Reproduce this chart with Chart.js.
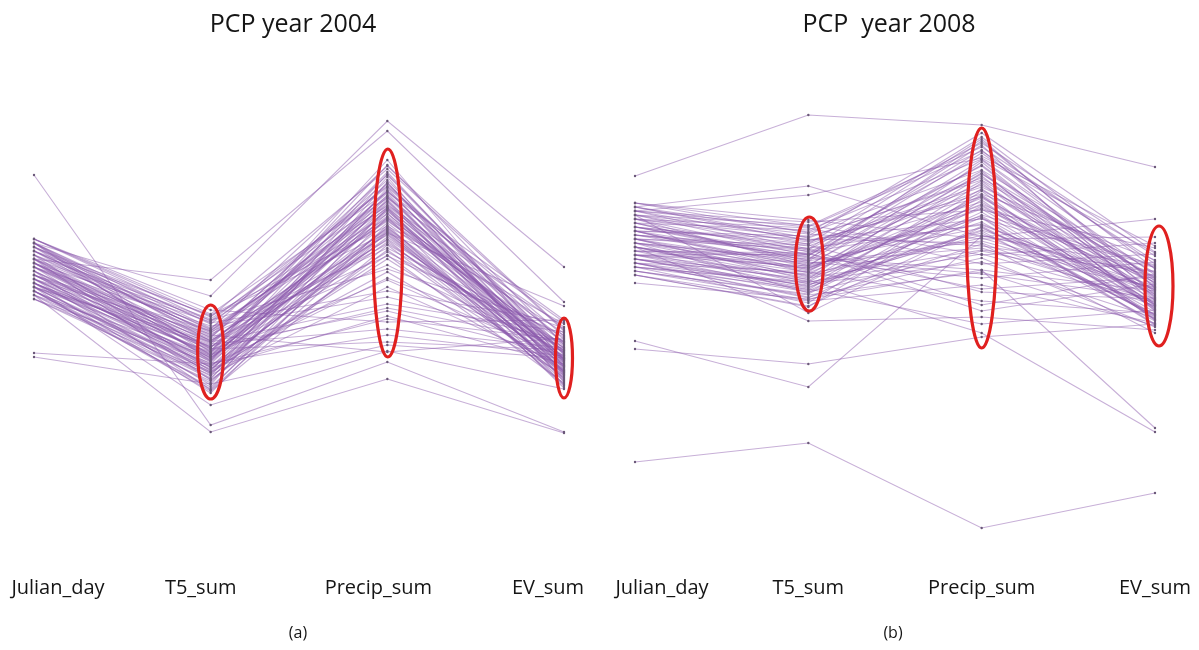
<!DOCTYPE html>
<html>
<head>
<meta charset="utf-8">
<script src="https://cdn.jsdelivr.net/npm/chart.js@4"></script>
<style>
  html, body { margin: 0; padding: 0; background: #fff; }
  body { width: 1199px; height: 650px; position: relative; overflow: hidden; }
  canvas { position: absolute; top: 0; }
  #pcpA { left: 0; }
  #pcpB { left: 600px; }
</style>
</head>
<body>
<canvas id="pcpA" width="600" height="650"></canvas>
<canvas id="pcpB" width="599" height="650"></canvas>
<script>
// Parallel coordinate axes (shared by both years)
const dimensions = ['Julian_day', 'T5_sum', 'Precip_sum', 'EV_sum'];

// Normalised records, 2004: [Julian_day, T5_sum, Precip_sum, EV_sum]
const records2004 = [
  [73.0, 23.0, 35.6, 21.6],
  [56.2, 52.0, 81.8, 47.6],
  [59.4, 48.8, 83.8, 54.6],
  [37.4, 35.2, 44.2, 40.0],
  [36.6, 31.2, 39.0, 36.4],
  [49.0, 21.6, 32.2, 21.4],
  [50.6, 27.0, 37.8, 30.2],
  [58.6, 44.8, 61.4, 46.8],
  [60.2, 44.6, 74.2, 41.8],
  [59.4, 43.2, 70.6, 39.4],
  [58.6, 42.0, 66.4, 37.8],
  [57.8, 45.0, 62.8, 43.2],
  [57.8, 40.8, 72.0, 36.2],
  [57.0, 41.6, 58.4, 40.6],
  [56.2, 39.4, 68.8, 35.4],
  [56.2, 44.0, 54.2, 42.4],
  [55.4, 38.6, 64.2, 38.8],
  [55.4, 37.8, 76.0, 34.6],
  [55.4, 40.2, 61.0, 33.6],
  [54.6, 36.8, 69.8, 37.2],
  [54.6, 42.8, 48.6, 39.8],
  [53.8, 38.0, 66.0, 32.8],
  [53.8, 35.6, 63.4, 36.6],
  [53.0, 39.0, 71.2, 38.2],
  [53.0, 34.8, 59.6, 35.0],
  [52.2, 41.2, 56.8, 41.0],
  [52.2, 36.2, 67.4, 34.2],
  [51.4, 33.6, 62.0, 31.8],
  [51.4, 37.4, 73.6, 36.0],
  [51.4, 35.0, 52.4, 38.6],
  [50.6, 32.4, 65.4, 33.2],
  [50.6, 38.8, 45.8, 37.0],
  [49.8, 34.2, 60.6, 35.8],
  [49.8, 31.4, 68.2, 32.2],
  [49.0, 36.6, 57.6, 39.2],
  [49.0, 30.6, 63.0, 30.8],
  [48.2, 33.0, 50.6, 34.8],
  [60.2, 46.0, 43.6, 44.0],
  [59.4, 35.8, 65.8, 36.4],
  [58.6, 37.0, 62.2, 34.0],
  [57.0, 33.8, 70.0, 35.6],
  [56.2, 32.0, 58.0, 33.4],
  [55.4, 43.6, 66.8, 40.2],
  [53.8, 30.0, 61.6, 31.2],
  [53.0, 40.0, 55.0, 37.6],
  [52.2, 31.0, 71.6, 33.0],
  [51.4, 29.4, 64.6, 30.4],
  [50.6, 39.6, 47.2, 41.6],
  [49.8, 29.8, 59.0, 32.6],
  [48.2, 35.4, 41.0, 36.8],
  [57.8, 38.2, 39.6, 38.0],
  [55.4, 34.4, 44.8, 35.2],
  [53.0, 41.8, 67.0, 42.6],
  [52.2, 36.0, 69.0, 34.4],
  [50.6, 32.8, 72.6, 31.6],
  [59.4, 39.8, 64.0, 37.4],
  [56.2, 36.4, 60.2, 36.8],
  [54.6, 33.2, 62.6, 33.8],
  [51.4, 37.6, 75.0, 39.0],
  [49.8, 34.6, 53.6, 33.0],
  [59.4, 41.0, 37.6, 40.4],
  [57.0, 44.2, 68.4, 43.6],
  [54.6, 39.2, 42.2, 38.4],
  [60.2, 43.8, 70.8, 40.8],
  [59.4, 42.4, 65.2, 38.4],
  [58.6, 40.4, 73.0, 37.0],
  [57.8, 41.4, 67.8, 35.8],
  [57.0, 39.8, 63.8, 39.6],
  [56.2, 38.4, 71.4, 34.8],
  [55.4, 36.4, 66.6, 36.0],
  [54.6, 40.6, 69.4, 33.6],
  [53.8, 37.2, 64.8, 37.8],
  [53.0, 35.2, 68.6, 35.0],
  [52.2, 38.6, 60.0, 32.4],
  [51.4, 34.0, 66.2, 34.6],
  [50.6, 36.8, 62.4, 36.2],
  [49.8, 32.2, 70.4, 33.4],
  [49.0, 33.4, 57.0, 31.4],
  [48.2, 31.8, 61.8, 34.0],
  [57.8, 42.2, 74.8, 42.0],
  [55.4, 39.6, 59.2, 38.0],
  [53.0, 37.0, 52.0, 36.4],
  [51.4, 35.8, 73.2, 37.4],
  [50.6, 33.6, 56.2, 33.8],
  [56.2, 41.8, 64.4, 41.4],
  [54.6, 38.2, 46.4, 39.6],
  [52.2, 34.6, 67.8, 32.0],
  [58.6, 43.4, 49.8, 43.4],
  [60.2, 45.2, 69.6, 44.0],
  [59.4, 37.6, 61.2, 35.4],
  [49.8, 30.2, 66.4, 31.0]
];

// Normalised records, 2008: [Julian_day, T5_sum, Precip_sum, EV_sum]
const records2008 = [
  [72.8, 85.0, 83.0, 74.6],
  [15.6, 19.4, 2.4, 9.4],
  [39.8, 30.6, 60.8, 54.6],
  [38.2, 35.2, 40.6, 43.2],
  [66.6, 70.8, 60.6, 64.2],
  [65.8, 69.0, 76.4, 57.4],
  [51.4, 48.2, 54.0, 22.4],
  [60.2, 52.0, 41.4, 21.6],
  [67.4, 62.8, 78.6, 55.2],
  [66.6, 60.4, 72.4, 52.6],
  [65.8, 63.6, 66.0, 58.4],
  [65.8, 58.2, 80.2, 50.4],
  [65.0, 61.2, 58.8, 53.8],
  [64.2, 57.0, 74.8, 48.6],
  [64.2, 59.6, 69.2, 56.0],
  [63.4, 55.8, 62.4, 47.2],
  [63.4, 62.0, 76.2, 51.8],
  [62.6, 56.6, 54.0, 49.8],
  [62.6, 58.8, 70.6, 54.4],
  [61.8, 54.6, 64.8, 45.6],
  [61.8, 60.8, 81.4, 57.6],
  [61.0, 55.2, 59.8, 50.2],
  [61.0, 57.8, 67.6, 46.4],
  [60.2, 53.8, 73.2, 52.2],
  [60.2, 59.0, 49.6, 48.2],
  [59.4, 52.8, 63.6, 44.6],
  [59.4, 56.2, 77.4, 53.0],
  [58.6, 51.6, 57.2, 47.6],
  [58.6, 54.2, 68.4, 49.4],
  [57.8, 57.4, 45.8, 51.2],
  [57.8, 50.6, 61.8, 43.8],
  [57.0, 53.0, 71.8, 46.8],
  [57.0, 55.6, 52.4, 55.6],
  [56.2, 49.8, 65.6, 45.0],
  [56.2, 52.2, 75.6, 48.0],
  [55.4, 48.6, 56.4, 42.6],
  [55.4, 51.0, 62.0, 50.8],
  [54.6, 47.4, 69.8, 44.2],
  [54.6, 50.2, 43.2, 46.0],
  [53.8, 48.0, 59.2, 41.4],
  [53.8, 49.2, 66.8, 47.4],
  [53.0, 47.8, 51.0, 43.4],
  [67.4, 64.0, 60.2, 60.6],
  [66.6, 61.6, 79.4, 56.8],
  [65.0, 59.2, 71.0, 51.4],
  [64.2, 62.4, 55.2, 57.2],
  [62.6, 57.2, 78.0, 49.0],
  [61.8, 53.4, 67.2, 52.0],
  [61.0, 58.4, 63.0, 50.0],
  [60.2, 55.0, 73.8, 45.8],
  [58.6, 52.4, 58.0, 53.6],
  [57.8, 56.8, 79.0, 47.0],
  [57.0, 54.8, 64.4, 43.0],
  [56.2, 50.8, 70.2, 48.8],
  [55.4, 53.6, 47.8, 45.4],
  [54.6, 51.4, 61.0, 52.8],
  [53.0, 46.6, 68.0, 44.0],
  [65.8, 60.0, 64.2, 54.8],
  [63.4, 58.0, 76.8, 58.8],
  [61.8, 56.4, 53.2, 48.4],
  [59.4, 54.4, 66.4, 51.6],
  [57.0, 51.8, 72.8, 46.2],
  [55.4, 49.6, 57.8, 50.6],
  [65.0, 45.4, 62.6, 44.8],
  [58.6, 43.8, 44.6, 42.0],
  [67.4, 61.4, 74.0, 53.4],
  [66.6, 59.8, 68.6, 50.0],
  [65.8, 62.6, 77.8, 55.8],
  [65.0, 57.6, 63.2, 49.2],
  [64.2, 60.6, 72.0, 52.4],
  [63.4, 55.4, 58.4, 47.8],
  [62.6, 59.2, 80.6, 54.2],
  [61.8, 54.0, 66.2, 46.6],
  [61.0, 57.0, 70.0, 51.0],
  [60.2, 52.6, 61.4, 45.2],
  [59.4, 55.8, 75.0, 49.6],
  [58.6, 51.2, 55.6, 44.4],
  [57.8, 54.4, 67.0, 48.0],
  [57.0, 50.0, 71.4, 46.0],
  [56.2, 53.2, 60.4, 50.4],
  [55.4, 48.4, 64.6, 43.2],
  [54.6, 51.6, 69.0, 47.0],
  [53.8, 49.0, 53.6, 42.8],
  [53.0, 46.8, 62.8, 45.0],
  [65.0, 63.0, 57.0, 59.4],
  [62.6, 56.0, 79.8, 51.2],
  [60.2, 58.2, 47.0, 53.2],
  [58.6, 53.6, 73.4, 48.4],
  [56.2, 50.4, 65.0, 55.0],
  [61.8, 60.2, 59.4, 46.8],
  [64.2, 54.8, 76.0, 50.6],
  [59.4, 49.4, 68.8, 44.0],
  [57.0, 57.2, 50.2, 52.6]
];

// Highlighted clusters: [axis index, centre value, half-height (value units)]
const clusters2004 = [[1, 37.6, 9.4], [2, 57.4, 20.8], [3, 36.4, 8.0]];
const clusters2008 = [[1, 55.2, 9.4], [2, 60.4, 22.0], [3, 50.8, 12.0]];

const LINE_COLOR = 'rgba(138, 88, 172, 0.48)';
const POINT_COLOR = '#6a5878';
const FONT = '"Open Sans", "Noto Sans", sans-serif';

function buildDatasets(records) {
  return records.map((r, i) => ({
    label: 'record ' + (i + 1),
    data: r,
    borderColor: LINE_COLOR,
    borderWidth: 1.1,
    pointRadius: 1.2,
    pointBackgroundColor: POINT_COLOR,
    pointBorderWidth: 0,
    tension: 0,
    clip: false
  }));
}

// Draws the red cluster ellipses plus title, axis names and caption
function decorations(cfg) {
  return {
    id: 'pcpDecor',
    afterDatasetsDraw(chart) {
      const ctx = chart.ctx, xs = chart.scales.x, ys = chart.scales.y;
      ctx.save();
      ctx.strokeStyle = '#e0201f';
      ctx.lineWidth = 3.2;
      cfg.clusters.forEach(([axis, centre, half], k) => {
        const cx = xs.getPixelForValue(axis) + cfg.ellipseShift[k];
        const cy = ys.getPixelForValue(centre);
        const ry = Math.abs(ys.getPixelForValue(centre + half) - cy);
        ctx.beginPath();
        ctx.ellipse(cx, cy, cfg.ellipseRx[k], ry, 0, 0, Math.PI * 2);
        ctx.stroke();
      });
      ctx.restore();
    },
    afterDraw(chart) {
      const ctx = chart.ctx, xs = chart.scales.x;
      ctx.save();
      ctx.fillStyle = '#151515';
      ctx.textAlign = 'center';
      ctx.textBaseline = 'middle';
      ctx.font = '25px ' + FONT;
      ctx.fillText(cfg.title, cfg.titleX, 25);
      ctx.font = '20px ' + FONT;
      dimensions.forEach((name, i) => {
        ctx.fillText(name, xs.getPixelForValue(i) + cfg.labelShift[i], 588);
      });
      ctx.font = '16px ' + FONT;
      ctx.fillText(cfg.caption, cfg.captionX, 633);
      ctx.restore();
    }
  };
}

function makeChart(id, records, padding, cfg) {
  return new Chart(document.getElementById(id), {
    type: 'line',
    data: { labels: dimensions, datasets: buildDatasets(records) },
    options: {
      responsive: false,
      animation: false,
      events: [],
      layout: { padding },
      plugins: { legend: { display: false }, tooltip: { enabled: false }, title: { display: false } },
      scales: {
        x: { type: 'category', display: false, offset: false },
        y: { type: 'linear', display: false, min: 0, max: 90 }
      }
    },
    plugins: [decorations(cfg)]
  });
}

makeChart('pcpA', records2004, { left: 34, right: 36, top: 90, bottom: 110 }, {
  title: 'PCP year 2004', titleX: 293,
  caption: '(a)', captionX: 298,
  labelShift: [24, -10, -9, -16],
  clusters: clusters2004,
  ellipseRx: [13, 14.5, 8.5],
  ellipseShift: [0, 0.5, 0]
});

makeChart('pcpB', records2008, { left: 35, right: 44, top: 90, bottom: 110 }, {
  title: 'PCP  year 2008', titleX: 289,
  caption: '(b)', captionX: 293,
  labelShift: [27, 0, 0, 0],
  clusters: clusters2008,
  ellipseRx: [14, 15, 14],
  ellipseShift: [1, 0, 4]
});
</script>
</body>
</html>
